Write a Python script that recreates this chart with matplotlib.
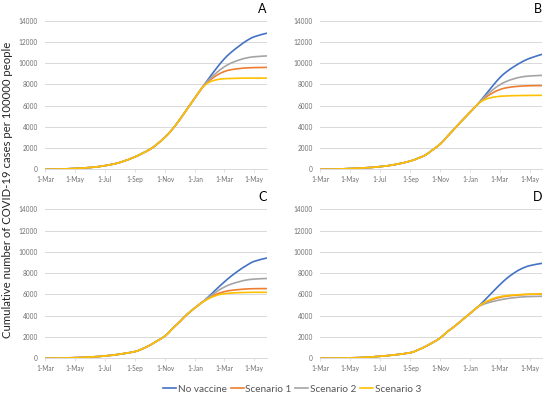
import matplotlib
matplotlib.use("Agg")
import matplotlib.pyplot as plt
import matplotlib.dates as mdates
from matplotlib.path import Path
from matplotlib.patches import PathPatch
from matplotlib.lines import Line2D
import numpy as np

plt.rcParams['font.family'] = ['Lato', 'DejaVu Sans']

# common part of every curve (before vaccination starts)
dates_pre = ['2020-03-01', '2020-04-01', '2020-05-01', '2020-06-01', '2020-07-01',
             '2020-08-01', '2020-09-01', '2020-09-15', '2020-10-01', '2020-10-15',
             '2020-11-01', '2020-11-15', '2020-12-01', '2020-12-15', '2021-01-01',
             '2021-01-15']
# after the split
dates_post = ['2021-01-23', '2021-02-01', '2021-02-15', '2021-03-01', '2021-03-15',
              '2021-04-01', '2021-04-15', '2021-05-01', '2021-05-27']

A_pre = [0, 25, 80, 170, 340, 650, 1180, 1500, 1880, 2350, 3040, 3740, 4700, 5630, 6750, 7660]
A_none = [8170, 8750, 9600, 10380, 11000, 11620, 12080, 12480, 12820]
A_s1 = [8080, 8430, 8880, 9200, 9380, 9490, 9550, 9580, 9600]
A_s2 = [8130, 8560, 9150, 9640, 10000, 10300, 10480, 10600, 10680]
A_s3 = [7990, 8250, 8450, 8530, 8560, 8580, 8590, 8590, 8590]

B_pre = [0, 20, 70, 140, 250, 450, 780, 1020, 1330, 1800, 2400, 3100, 3900, 4600, 5420, 6100]
B_none = [6540, 7050, 7850, 8600, 9180, 9720, 10100, 10450, 10840]
B_s1 = [6440, 6780, 7200, 7500, 7680, 7790, 7840, 7870, 7890]
B_s2 = [6480, 6920, 7480, 7940, 8280, 8550, 8700, 8790, 8850]
B_s3 = [6380, 6600, 6780, 6870, 6910, 6940, 6950, 6960, 6970]

C_pre = [0, 20, 60, 120, 220, 390, 640, 880, 1230, 1620, 2100, 2750, 3450, 4100, 4750, 5250]
C_none = [5560, 5940, 6560, 7150, 7700, 8280, 8700, 9100, 9420]
C_s1 = [5490, 5750, 6050, 6250, 6380, 6460, 6510, 6540, 6550]
C_s2 = [5530, 5850, 6300, 6680, 6960, 7200, 7350, 7440, 7500]
C_s3 = [5460, 5680, 5930, 6060, 6130, 6170, 6190, 6200, 6200]

D_pre = [0, 15, 40, 90, 190, 330, 530, 760, 1100, 1450, 1930, 2500, 3050, 3600, 4250, 4800]
D_none = [5140, 5560, 6230, 6880, 7480, 8060, 8420, 8700, 8930]
D_s1 = [5040, 5250, 5530, 5720, 5840, 5920, 5970, 6010, 6040]
D_s2 = [4990, 5150, 5330, 5480, 5600, 5700, 5760, 5800, 5830]
D_s3 = [5060, 5300, 5600, 5780, 5880, 5950, 5990, 6020, 6040]

series_names = ['No vaccine', 'Scenario 1', 'Scenario 2', 'Scenario 3']
colors = ['#4472C4', '#ED7D31', '#A5A5A5', '#FFC000']
tick_dates = ['2020-03-01', '2020-05-01', '2020-07-01', '2020-09-01', '2020-11-01',
              '2021-01-01', '2021-03-01', '2021-05-01']
tick_labels = ['1-Mar', '1-May', '1-Jul', '1-Sep', '1-Nov', '1-Jan', '1-Mar', '1-May']

panels = [
    ('A', A_pre, [A_none, A_s1, A_s2, A_s3]),
    ('B', B_pre, [B_none, B_s1, B_s2, B_s3]),
    ('C', C_pre, [C_none, C_s1, C_s2, C_s3]),
    ('D', D_pre, [D_none, D_s1, D_s2, D_s3]),
]


def smooth_path(x, y, ax):
    # excel-like smoothed line: catmull-rom segments drawn as cubic beziers,
    # computed in display space so the tangents look right
    pts = ax.transData.transform(np.column_stack([x, y]))
    n = len(pts)
    verts = [pts[0]]
    codes = [Path.MOVETO]
    for i in range(n - 1):
        p0 = pts[i - 1] if i > 0 else pts[i]
        p1 = pts[i]
        p2 = pts[i + 1]
        p3 = pts[i + 2] if i + 2 < n else pts[i + 1]
        c1 = p1 + (p2 - p0) / 6
        c2 = p2 - (p3 - p1) / 6
        verts += [c1, c2, p2]
        codes += [Path.CURVE4] * 3
    return Path(ax.transData.inverted().transform(np.array(verts)), codes)


W, H = 550, 398
fig = plt.figure(figsize=(W / 100, H / 100), dpi=100, facecolor='white')

# pixel boxes of the plot areas: left, right, top, bottom
boxes = [(45, 266.7, 20.7, 169.3), (320, 542.3, 20.7, 169.3),
         (45, 266.7, 209.3, 358.3), (320, 542.3, 209.3, 358.3)]

x_pre = np.array(dates_pre, dtype='datetime64[D]')
x_post = np.array(dates_post, dtype='datetime64[D]')
x_all = mdates.date2num(np.concatenate([x_pre, x_post]))

for (letter, pre, tails), (l, r, t, b) in zip(panels, boxes):
    ax = fig.add_axes([l / W, 1 - b / H, (r - l) / W, (b - t) / H])
    ax.set_ylim(0, 14000)
    ax.set_xlim(mdates.date2num(np.datetime64('2020-03-01')),
                mdates.date2num(np.datetime64('2021-05-27')))
    for name, col, tail in zip(series_names, colors, tails):
        path = smooth_path(x_all, np.array(list(pre) + list(tail), float), ax)
        ax.add_patch(PathPatch(path, fill=False, edgecolor=col, lw=1.2,
                               capstyle='round', joinstyle='round'))
    ax.set_yticks(np.arange(0, 14001, 2000))
    ax.set_xticks(mdates.date2num(np.array(tick_dates, dtype='datetime64[D]')))
    ax.set_xticklabels(tick_labels)
    ax.grid(axis='y', color='#D9D9D9', lw=0.7)
    ax.set_axisbelow(True)
    for s in ['top', 'right', 'left']:
        ax.spines[s].set_visible(False)
    ax.spines['bottom'].set_color('#D9D9D9')
    ax.spines['bottom'].set_linewidth(0.7)
    ax.tick_params(axis='y', length=0, pad=5, labelsize=4.7, labelcolor='#6F6F6F')
    ax.tick_params(axis='x', length=2, width=0.6, color='#D9D9D9', pad=3,
                   labelsize=4.7, labelcolor='#6F6F6F')
    ax.text(1.0, 1.04, letter, transform=ax.transAxes, ha='right', va='bottom',
            fontsize=9, color='black')

fig.text(8 / W, 1 - 190 / H, 'Cumulative number of COVID-19 cases per 100000 people',
         rotation=90, ha='center', va='center', fontsize=8.2, color='#262626')

handles = [Line2D([], [], color=c, lw=1.2) for c in colors]
fig.legend(handles, series_names, loc='center', bbox_to_anchor=(292 / W, 1 - 389 / H),
           ncol=4, frameon=False, fontsize=7.2, handlelength=1.3, handletextpad=0.15,
           columnspacing=0.4, labelcolor='#555555')

fig.savefig('out.png', dpi=100, facecolor='white')
